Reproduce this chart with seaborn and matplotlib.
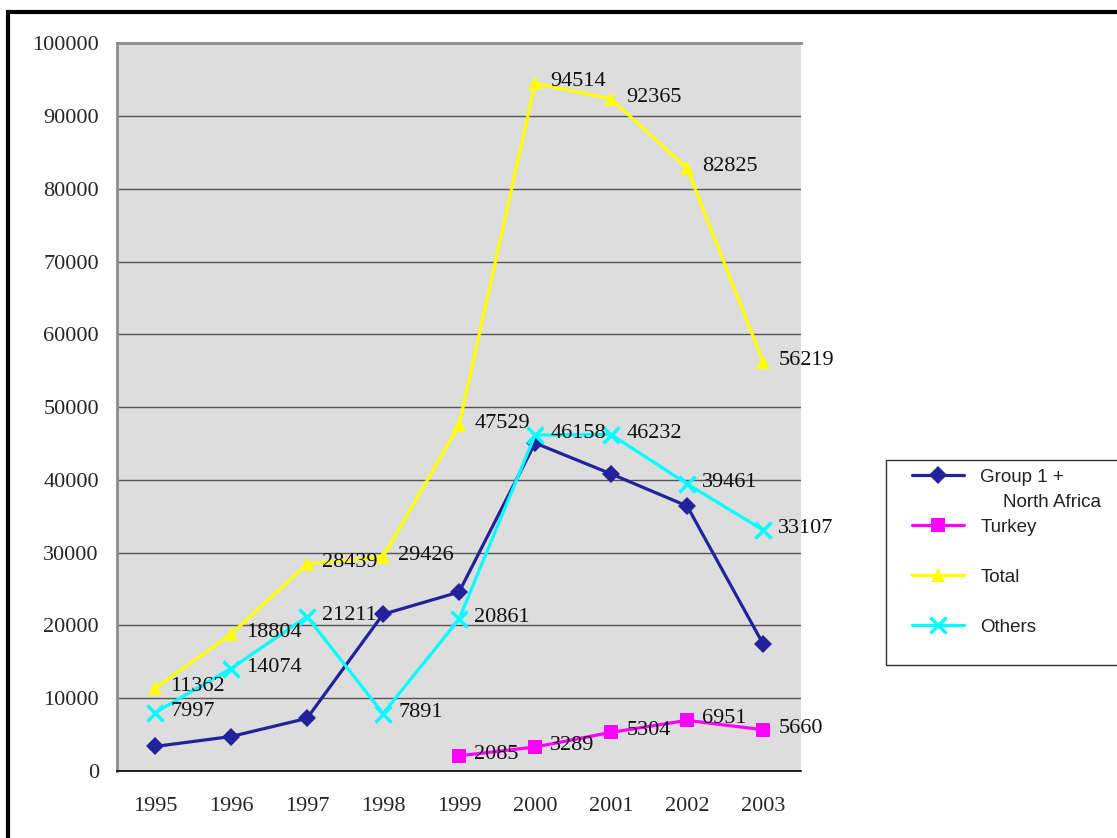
import numpy as np
import pandas as pd
import matplotlib
matplotlib.use("Agg")
import matplotlib.pyplot as plt
from matplotlib.patches import Rectangle
import seaborn as sns

# Data
years = ["1995", "1996", "1997", "1998", "1999", "2000", "2001", "2002", "2003"]
group1 = [3365, 4730, 7228, 21535, 24583, 45067, 40829, 36413, 17452]
turkey = [np.nan, np.nan, np.nan, np.nan, 2085, 3289, 5304, 6951, 5660]
total = [11362, 18804, 28439, 29426, 47529, 94514, 92365, 82825, 56219]
others = [7997, 14074, 21211, 7891, 20861, 46158, 46232, 39461, 33107]

series_names = ["Group 1 +", "Turkey", "Total", "Others"]
series_values = [group1, turkey, total, others]
series_colors = ["#22229A", "#FF00FF", "#FFFF00", "#00FFFF"]
series_markers = ["D", "s", "^", "x"]
marker_sizes = [9, 10, 10, 11]
labelled = ["Turkey", "Total", "Others"]

sns.set_style("white")
plt.rcParams["font.family"] = ["Liberation Serif", "DejaVu Serif"]

fig = plt.figure(figsize=(11.17, 8.38), dpi=100)
ax = fig.add_axes([0.1047, 0.080, 0.6125, 0.8683])
ax.set_facecolor("#DDDDDD")

pos = np.arange(len(years))
for name, vals, col, mk, ms in zip(series_names, series_values, series_colors, series_markers, marker_sizes):
    df = pd.DataFrame({"x": pos, "y": vals}).dropna()
    mew = 2.5 if mk == "x" else 0
    sns.lineplot(data=df, x="x", y="y", ax=ax, color=col, marker=mk, markersize=ms,
                 markeredgecolor=col, markeredgewidth=mew, linewidth=2.3,
                 label=name, zorder=3)
    if name in labelled:
        for xv, yv in zip(df["x"], df["y"]):
            ax.annotate(f"{int(yv)}", (xv, yv), xytext=(11, 1), textcoords="offset points",
                        ha="left", va="center", fontsize=16, color="#111111", zorder=4)

ax.set_xlim(-0.5, len(years) - 0.5)
ax.set_ylim(0, 100000)
ax.set_yticks(np.arange(0, 100001, 10000))
ax.set_yticklabels([str(v) for v in range(0, 100001, 10000)], fontsize=16)
ax.set_xticks(pos)
ax.set_xticklabels(years, fontsize=16)
ax.set_xticks(np.arange(-0.5, len(years), 1), minor=True)
ax.tick_params(axis="x", which="major", length=0, pad=19)
ax.tick_params(axis="x", which="minor", length=7, width=1, color="black", direction="out")
ax.tick_params(axis="y", length=7, width=1, color="black", direction="out", pad=6)
ax.set_xlabel("")
ax.set_ylabel("")
ax.grid(axis="y", color="#555555", linewidth=1)
ax.set_axisbelow(True)
for side in ["left", "top"]:
    ax.spines[side].set_color("#8C8C8C")
    ax.spines[side].set_linewidth(2)
ax.spines["right"].set_visible(False)
ax.spines["bottom"].set_color("black")
ax.spines["bottom"].set_linewidth(1.2)

handles, labels = ax.get_legend_handles_labels()
ax.get_legend().remove()
leg = fig.legend(handles, labels, loc="upper left", bbox_to_anchor=(908 / 1117, 1 - 465 / 838),
                 prop={"family": "Liberation Sans", "size": 13.5}, frameon=False,
                 handlelength=2.8, handletextpad=0.85, labelspacing=1.75,
                 borderpad=0.2, borderaxespad=0)
fig.text(1003 / 1117, 1 - 502 / 838, "North Africa", fontsize=13.5, family="Liberation Sans",
         ha="left", va="center", color="#222222")
for t in leg.get_texts():
    t.set_color("#222222")

# legend box and outer chart border
fig.patches.append(Rectangle((886 / 1117, 1 - 665 / 838), 0.3, 205 / 838, transform=fig.transFigure,
                             fill=False, edgecolor="#333333", linewidth=1))
fig.patches.append(Rectangle((8 / 1117, -0.05), 1.2, 1 - 12 / 838 + 0.05, transform=fig.transFigure,
                             fill=False, edgecolor="black", linewidth=3))

fig.savefig("out.png", dpi=100)
